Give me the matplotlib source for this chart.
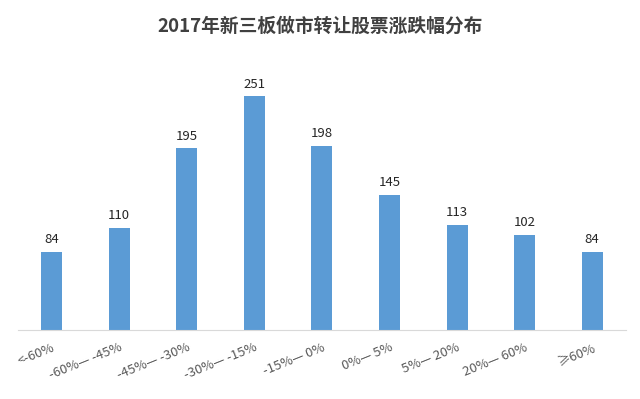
import matplotlib.pyplot as plt

plt.rcParams['font.family'] = ['Noto Sans CJK SC', 'DejaVu Sans']

categories = ['<-60%', '-60%— -45%', '-45%— -30%', '-30%— -15%', '-15%— 0%',
              '0%— 5%', '5%— 20%', '20%— 60%', '≥60%']
counts = [84, 110, 195, 251, 198, 145, 113, 102, 84]

fig = plt.figure(figsize=(6.4, 3.99), dpi=100)
ax = fig.add_axes([0.028, 0.173, 0.95, 0.677])

x = range(len(categories))
bars = ax.bar(x, counts, width=0.31, color='#5B9BD5')
for xi, v in zip(x, counts):
    ax.text(xi, v + 6, str(v), ha='center', va='bottom', fontsize=9.5, color='#262626')

ax.set_xlim(-0.5, len(categories) - 0.5)
ax.set_ylim(0, 290)
ax.set_xticks(list(x))
ax.set_xticklabels(categories, rotation=22, ha='right', rotation_mode='anchor',
                   fontsize=9.5, color='#595959')
ax.tick_params(axis='x', length=0, pad=8)
ax.set_yticks([])
for s in ['top', 'right', 'left']:
    ax.spines[s].set_visible(False)
ax.spines['bottom'].set_color('#D9D9D9')

fig.text(0.5, 0.935, '2017年新三板做市转让股票涨跌幅分布', ha='center', va='center',
         fontsize=13.5, fontweight='bold', color='#404040')

fig.savefig('out.png', dpi=100)
